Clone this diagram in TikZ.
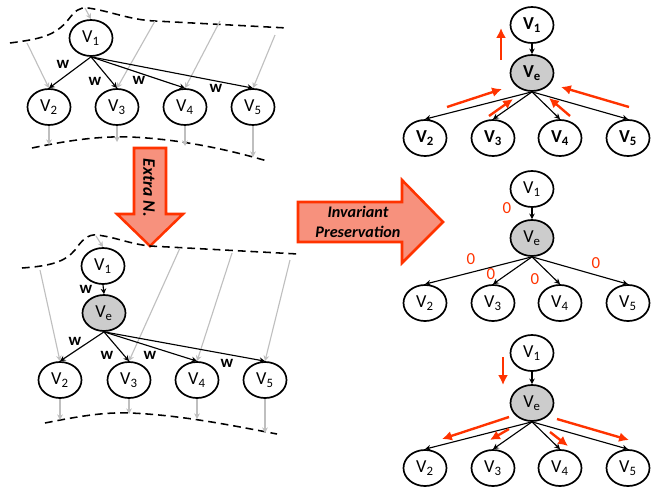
\documentclass[tikz,border=0pt]{standalone}
\usepackage{fontspec}
\setmainfont{Carlito}
\usepackage{tikz}
\usetikzlibrary{arrows.meta}
\usetikzlibrary{shapes.geometric}
\definecolor{mred}{rgb}{1.0, 0.2, 0.0}
\definecolor{mpink}{rgb}{0.97, 0.57, 0.49}
\definecolor{mgray}{rgb}{0.75, 0.75, 0.75}
\tikzset{vert/.style = {ellipse, draw, line width=1.2pt, minimum width=1.075cm,
                        minimum height=0.9cm, inner sep=0pt,
                        font=\fontsize{13}{15}\selectfont}}
\tikzset{vertx/.style = {vert, fill=black!20}}
\tikzset{link/.style = {-{Stealth[length=4pt, width=4pt]}, line width=0.8pt}}
\tikzset{mapto/.style = {-{Stealth[length=4pt, width=4pt]}, mgray, line width=0.8pt}}
\tikzset{bound/.style = {line width=1.1pt, dash pattern=on 5.5pt off 3.5pt}}
\tikzset{flow/.style = {-{Latex[length=7pt, width=7pt]}, mred, line width=1.7pt}}
\tikzset{bigarrow/.style = {fill=mpink, draw=mred, line width=1.8pt, line join=miter}}
\tikzset{wlab/.style = {font=\fontsize{12}{14}\selectfont\bfseries}}
\tikzset{zlab/.style = {text=mred, font=\fontsize{12}{14}\selectfont}}

\begin{document}
\begin{tikzpicture}[x=0.025cm, y=-0.025cm]
    \useasboundingbox (0, 0) rectangle (670, 494);

    % top left: before
    \draw [bound] (10, 43) .. controls (40, 39) and (55, 36) .. (68, 20)
                  .. controls (75, 11) and (79, 7) .. (88, 8)
                  .. controls (110, 11) and (130, 20) .. (155, 21) -- (287, 28);
    \draw [bound] (32, 148) .. controls (70, 140) and (100, 136) .. (130, 137)
                  .. controls (180, 139) and (230, 150) .. (267, 161);

    \node [vert] (a1) at (91, 38) {V\textsubscript{1}};
    \node [vert] (a2) at (49, 107) {V\textsubscript{2}};
    \node [vert] (a3) at (117, 107) {V\textsubscript{3}};
    \node [vert] (a4) at (185, 107) {V\textsubscript{4}};
    \node [vert] (a5) at (253, 107) {V\textsubscript{5}};

    \coordinate (ai1) at (85, 8);
    \coordinate (ai2) at (27, 43);
    \coordinate (ai3) at (155, 21);
    \coordinate (ai4) at (220, 21);
    \coordinate (ai5) at (275, 35);
    \coordinate (ao2) at (49, 145);
    \coordinate (ao3) at (117, 142);
    \coordinate (ao4) at (185, 146);
    \coordinate (ao5) at (253, 157);

    \draw [mapto] (ai1) -- (a1.north);
    \draw [mapto] (ai2) -- (a2.north);
    \draw [mapto] (ai3) -- (a3.north);
    \draw [mapto] (ai4) -- (a4.north);
    \draw [mapto] (ai5) -- (a5.north);
    \draw [mapto] (a2.south) -- (ao2);
    \draw [mapto] (a3.south) -- (ao3);
    \draw [mapto] (a4.south) -- (ao4);
    \draw [mapto] (a5.south) -- (ao5);

    \draw [link] (a1.south) -- (a2.north);
    \draw [link] (a1.south) -- (a3.north);
    \draw [link] (a1.south) -- (a4.north);
    \draw [link] (a1.south) -- (a5.north);

    \node [wlab] (aw2) at (63, 64) {w};
    \node [wlab] (aw3) at (95, 81) {w};
    \node [wlab] (aw4) at (139, 80) {w};
    \node [wlab] (aw5) at (216, 88) {w};

    % extra node arrow
    \draw [bigarrow] (134, 148) -- (166, 148) -- (166, 214) -- (183, 214)
                     -- (150, 246) -- (117, 214) -- (134, 214) -- cycle;
    \node [rotate=-90, font=\fontsize{12.5}{14}\selectfont\bfseries\itshape] (extra) at (149, 188) {Extra N.};

    % invariant arrow
    \draw [bigarrow] (298, 202) -- (402, 202) -- (402, 180) -- (443, 222)
                     -- (402, 263) -- (402, 242) -- (298, 242) -- cycle;
    \node [align=center, font=\fontsize{11.5}{14}\selectfont\bfseries\itshape] (inv) at (358, 222) {Invariant\\Preservation};

    % bottom left: after
    \draw [bound] (22, 268) .. controls (50, 266) and (65, 262) .. (75, 250)
                  .. controls (82, 240) and (88, 234) .. (97, 235)
                  .. controls (115, 237) and (130, 244) .. (150, 246) -- (298, 254);
    \draw [bound] (45, 423) .. controls (80, 416) and (105, 412) .. (130, 413)
                  .. controls (180, 415) and (230, 425) .. (277, 434);

    \node [vert] (b1) at (103, 266) {V\textsubscript{1}};
    \node [vertx] (be) at (104, 313) {V\textsubscript{e}};
    \node [vert] (b2) at (60, 380) {V\textsubscript{2}};
    \node [vert] (b3) at (129, 380) {V\textsubscript{3}};
    \node [vert] (b4) at (197, 380) {V\textsubscript{4}};
    \node [vert] (b5) at (265, 380) {V\textsubscript{5}};

    \coordinate (bi1) at (96, 236);
    \coordinate (bi2) at (40, 270);
    \coordinate (bi3) at (180, 248);
    \coordinate (bi4) at (232, 253);
    \coordinate (bi5) at (290, 260);
    \coordinate (bo2) at (60, 420);
    \coordinate (bo3) at (129, 414);
    \coordinate (bo4) at (197, 419);
    \coordinate (bo5) at (265, 433);

    \draw [mapto] (bi1) -- (b1.north);
    \draw [mapto] (bi2) -- (b2.north);
    \draw [mapto] (bi3) -- (b3.north);
    \draw [mapto] (bi4) -- (b4.north);
    \draw [mapto] (bi5) -- (b5.north);
    \draw [mapto] (b2.south) -- (bo2);
    \draw [mapto] (b3.south) -- (bo3);
    \draw [mapto] (b4.south) -- (bo4);
    \draw [mapto] (b5.south) -- (bo5);

    \draw [link] (b1.south) -- (be.north);
    \draw [link] (be.south) -- (b2.north);
    \draw [link] (be.south) -- (b3.north);
    \draw [link] (be.south) -- (b4.north);
    \draw [link] (be.south) -- (b5.north);

    \node [wlab] (bwe) at (86, 289) {w};
    \node [wlab] (bw2) at (75, 341) {w};
    \node [wlab] (bw3) at (107, 355) {w};
    \node [wlab] (bw4) at (150, 355) {w};
    \node [wlab] (bw5) at (227, 363) {w};

    % right top: gradients in
    \node [vert, font=\fontsize{13}{15}\selectfont\bfseries] (c1) at (532, 25) {V\textsubscript{1}};
    \node [vertx, font=\fontsize{13}{15}\selectfont\bfseries] (ce) at (532, 73) {V\textsubscript{e}};
    \node [vert, font=\fontsize{13}{15}\selectfont\bfseries] (c2) at (425, 138) {V\textsubscript{2}};
    \node [vert, font=\fontsize{13}{15}\selectfont\bfseries] (c3) at (493, 138) {V\textsubscript{3}};
    \node [vert, font=\fontsize{13}{15}\selectfont\bfseries] (c4) at (560, 138) {V\textsubscript{4}};
    \node [vert, font=\fontsize{13}{15}\selectfont\bfseries] (c5) at (628, 138) {V\textsubscript{5}};

    \draw [link] (c1.south) -- (ce.north);
    \draw [link] (ce.south) -- (c2.north);
    \draw [link] (ce.south) -- (c3.north);
    \draw [link] (ce.south) -- (c4.north);
    \draw [link] (ce.south) -- (c5.north);

    \draw [flow] (501, 60) -- (501, 28);
    \draw [flow] (447, 107) -- (502, 89);
    \draw [flow] (489, 116) -- (513, 99);
    \draw [flow] (570, 116) -- (549, 98);
    \draw [flow] (629, 107) -- (561, 87);

    % right middle: zero weights
    \node [vert] (d1) at (532, 189) {V\textsubscript{1}};
    \node [vertx] (de) at (532, 238) {V\textsubscript{e}};
    \node [vert] (d2) at (425, 303) {V\textsubscript{2}};
    \node [vert] (d3) at (493, 303) {V\textsubscript{3}};
    \node [vert] (d4) at (560, 303) {V\textsubscript{4}};
    \node [vert] (d5) at (628, 303) {V\textsubscript{5}};

    \draw [link] (d1.south) -- (de.north);
    \draw [link] (de.south) -- (d2.north);
    \draw [link] (de.south) -- (d3.north);
    \draw [link] (de.south) -- (d4.north);
    \draw [link] (de.south) -- (d5.north);

    \node [zlab] (dze) at (507, 208) {0};
    \node [zlab] (dz2) at (471, 259) {0};
    \node [zlab] (dz3) at (491, 274) {0};
    \node [zlab] (dz4) at (535, 279) {0};
    \node [zlab] (dz5) at (596, 263) {0};

    % right bottom: gradients out
    \node [vert] (e1) at (532, 353) {V\textsubscript{1}};
    \node [vertx] (ee) at (532, 403) {V\textsubscript{e}};
    \node [vert] (e2) at (425, 468) {V\textsubscript{2}};
    \node [vert] (e3) at (493, 468) {V\textsubscript{3}};
    \node [vert] (e4) at (560, 468) {V\textsubscript{4}};
    \node [vert] (e5) at (628, 468) {V\textsubscript{5}};

    \draw [link] (e1.south) -- (ee.north);
    \draw [link] (ee.south) -- (e2.north);
    \draw [link] (ee.south) -- (e3.north);
    \draw [link] (ee.south) -- (e4.north);
    \draw [link] (ee.south) -- (e5.north);

    \draw [flow] (503, 357) -- (503, 385);
    \draw [flow] (509, 417) -- (442, 439);
    \draw [flow] (509, 429) -- (490, 440);
    \draw [flow] (550, 432) -- (568, 446);
    \draw [flow] (557, 419) -- (629, 440);
\end{tikzpicture}
\end{document}
